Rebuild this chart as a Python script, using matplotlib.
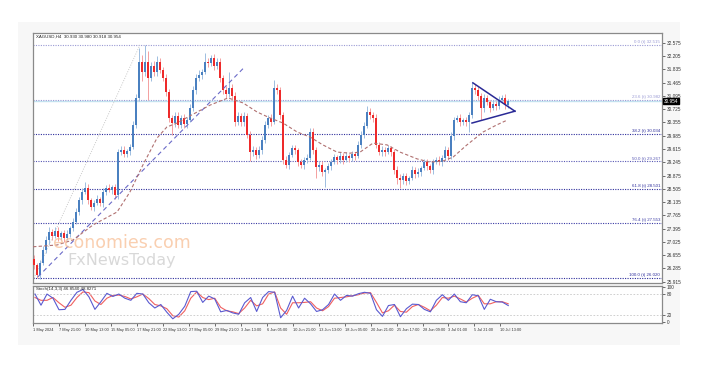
import matplotlib.pyplot as plt
import matplotlib.transforms as mtransforms
from matplotlib.patches import Rectangle

plt.rcParams['font.family'] = ['Liberation Sans', 'DejaVu Sans']

# chart texts
symbol_title = "XAGUSD,H4  30.930 30.980 30.918 30.954"
stoch_title = "Stoch(14,3,3) 46.8540 48.8271"

# candles (H4), open = previous close
first_open = 26.55
closes = [
    26.38, 26.10, 26.45, 26.80, 27.08, 27.30, 27.19, 27.33, 27.16, 27.27,
    27.13, 27.25, 27.42, 27.58, 27.86, 28.19, 28.42, 28.53, 28.19, 28.00,
    28.11, 28.22, 28.11, 28.42, 28.53, 28.47, 28.55, 28.33, 29.53, 29.59,
    29.48, 29.56, 29.67, 30.29, 31.04, 32.04, 31.76, 32.04, 31.60, 31.93,
    31.76, 32.04, 31.82, 31.60, 31.20, 30.48, 30.34, 30.54, 30.29, 30.48,
    30.31, 30.42, 30.76, 31.26, 31.60, 31.68, 31.76, 32.04, 32.01, 32.15,
    31.93, 32.04, 31.60, 31.26, 31.15, 31.32, 31.09, 30.37, 30.54, 30.37,
    30.54, 30.01, 29.53, 29.59, 29.45, 29.59, 29.87, 30.29, 30.48, 30.37,
    31.32, 31.26, 30.56, 29.31, 29.17, 29.45, 29.64, 29.59, 29.25, 29.17,
    29.31, 29.36, 30.09, 29.59, 29.11, 29.17, 28.97, 29.03, 29.14, 29.25,
    29.39, 29.31, 29.42, 29.31, 29.42, 29.36, 29.48, 29.42, 29.73, 30.01,
    30.26, 30.65, 30.56, 30.48, 29.73, 29.53, 29.59, 29.53, 29.64, 29.53,
    29.03, 28.80, 28.75, 28.86, 28.72, 28.80, 29.03, 28.92, 28.97, 29.08,
    29.25, 29.14, 29.03, 29.25, 29.31, 29.25, 29.36, 29.59, 29.42, 29.98,
    30.42, 30.48, 30.37, 30.42, 30.37, 30.56, 31.32, 31.26, 31.09, 30.76,
    31.04, 30.93, 30.76, 30.87, 30.81, 30.98, 31.04, 30.84, 30.95,
]
wick_up = [
    .10, .06, .08, .12, .10, .14, .08, .10, .12, .06,
    .08, .10, .06, .10, .12, .08, .10, .16, .12, .06,
    .08, .10, .06, .12, .08, .10, .06, .10, .08, .10,
    .12, .06, .08, .10, .10, .40, .20, .48, .30, .12,
    .15, .18, .10, .08, .10, .10, .08, .10, .12, .08,
    .10, .08, .10, .12, .10, .14, .10, .25, .12, .10,
    .12, .10, .10, .08, .12, .44, .10, .12, .10, .08,
    .10, .08, .12, .10, .08, .10, .12, .10, .08, .10,
    .22, .10, .08, .10, .12, .08, .10, .08, .06, .10,
    .08, .12, .11, .10, .08, .10, .12, .06, .08, .10,
    .08, .06, .10, .08, .10, .06, .08, .06, .10, .12,
    .10, .16, .10, .08, .12, .08, .10, .08, .10, .06,
    .08, .10, .12, .08, .10, .06, .10, .08, .12, .06,
    .10, .08, .06, .10, .08, .12, .08, .10, .08, .12,
    .10, .08, .10, .06, .08, .10, .16, .10, .12, .08,
    .10, .08, .06, .12, .08, .10, .08, .10, .06,
]
wick_dn = [
    .10, .08, .10, .06, .08, .10, .12, .06, .10, .08,
    .10, .06, .08, .10, .06, .08, .10, .06, .12, .08,
    .10, .06, .08, .10, .08, .06, .10, .12, .10, .08,
    .10, .08, .12, .06, .10, .08, .25, .10, .62, .10,
    .12, .10, .08, .10, .12, .10, .33, .12, .10, .08,
    .10, .12, .06, .08, .10, .08, .12, .06, .10, .08,
    .10, .08, .12, .10, .10, .08, .10, .12, .08, .10,
    .12, .10, .25, .10, .12, .08, .10, .08, .10, .12,
    .06, .10, .10, .12, .08, .10, .06, .10, .12, .08,
    .10, .08, .06, .10, .31, .10, .12, .40, .08, .10,
    .06, .10, .08, .12, .06, .10, .08, .10, .06, .08,
    .10, .06, .10, .12, .10, .08, .12, .10, .06, .10,
    .10, .15, .22, .10, .12, .08, .06, .10, .08, .10,
    .06, .10, .08, .10, .06, .08, .10, .06, .10, .08,
    .10, .06, .10, .08, .10, .27, .08, .10, .12, .34,
    .10, .08, .12, .06, .10, .08, .06, .10, .08,
]
last_price = 30.954

# fibonacci retracement
swing_high = 32.515
swing_low = 26.020
fib_levels = [0.0, 23.6, 38.2, 50.0, 61.8, 76.4, 100.0]
fib_colors = ['#9a9ad4', '#9a9ad4', '#2e2e9c', '#5858b4', '#2e2e9c', '#3a3aa4', '#2e2e9c']

price_ticks = [32.575, 32.205, 31.835, 31.465, 31.095, 30.725, 30.355, 29.985,
               29.615, 29.245, 28.875, 28.505, 28.135, 27.765, 27.395, 27.025,
               26.655, 26.285, 25.915]

# moving average (dashed brown), vertices
ma_bar = [-0.3, 7.7, 13.0, 19.7, 27.7, 32.0, 36.3, 41.0, 44.3, 47.7, 52.0, 58.7,
          64.7, 69.7, 74.3, 78.7, 83.0, 87.7, 92.0, 96.3, 101.0, 105.3, 108.7,
          113.0, 117.7, 122.0, 127.7, 132.0, 136.3, 139.7, 144.3, 149.7, 154.3, 157.7]
ma_val = [26.89, 26.94, 27.08, 27.50, 27.86, 28.42, 29.17, 29.92, 30.23, 30.34,
          30.54, 30.84, 31.04, 30.90, 30.65, 30.48, 30.34, 30.09, 29.95, 29.73,
          29.53, 29.50, 29.53, 29.78, 29.73, 29.53, 29.34, 29.25, 29.28, 29.39,
          29.73, 30.09, 30.29, 30.42]

# drawn lines
trend_bar = [1.3, 70.3]
trend_val = [26.05, 31.91]
anchor_bar = [0.0, 35.3]
anchor_val = [26.02, 32.515]
tri_up_bar = [146.3, 160.3]
tri_up_val = [31.46, 30.67]
tri_lo_bar = [146.0, 160.3]
tri_lo_val = [30.34, 30.67]

# stochastic, one value every 2 bars
stoch_k = [80, 48, 80, 68, 35, 36, 62, 85, 93, 72, 36, 58, 82, 73, 80, 68, 62, 82,
           80, 55, 40, 50, 28, 9, 22, 45, 87, 88, 56, 74, 66, 29, 33, 26, 22, 55,
           70, 30, 70, 87, 85, 12, 33, 74, 40, 68, 52, 30, 35, 50, 80, 62, 76, 74,
           81, 85, 82, 35, 16, 47, 50, 15, 38, 51, 50, 36, 29, 62, 78, 62, 80, 58,
           55, 78, 75, 36, 65, 58, 57, 47]
stoch_d = [70, 62, 62, 70, 55, 42, 48, 70, 86, 84, 60, 50, 68, 76, 77, 73, 66, 72,
           80, 67, 50, 46, 38, 18, 14, 32, 68, 86, 70, 64, 68, 42, 32, 29, 24, 40,
           62, 46, 52, 80, 86, 40, 22, 55, 55, 56, 58, 40, 32, 44, 68, 70, 72, 75,
           78, 83, 84, 56, 26, 32, 48, 30, 28, 44, 50, 42, 32, 48, 70, 68, 74, 66,
           57, 68, 76, 52, 52, 58, 58, 52]
stoch_levels = [20, 80]

date_labels = ['1 May 2024', '7 May 21:00', '10 May 13:00', '15 May 05:00',
               '17 May 21:00', '22 May 13:00', '27 May 05:00', '29 May 21:00',
               '3 Jun 13:00', '6 Jun 05:00', '10 Jun 21:00', '13 Jun 13:00',
               '18 Jun 05:00', '20 Jun 21:00', '25 Jun 17:00', '28 Jun 09:00',
               '3 Jul 01:00', '5 Jul 21:00', '10 Jul 13:00']

W, H = 702, 376
fig = plt.figure(figsize=(W / 100, H / 100), dpi=100)
fig.patch.set_facecolor('white')
fig.patches.append(Rectangle((18 / W, 1 - 345 / H), 662 / W, 323 / H,
                             transform=fig.transFigure, facecolor='#f7f7f7',
                             edgecolor='none', zorder=-5))

ax = fig.add_axes([33 / W, 1 - 283 / H, 629 / W, 250 / H])
sub = fig.add_axes([33 / W, 1 - 323 / H, 629 / W, 37 / H])

n = len(closes)
xlim = (-0.33, 209.33)

# candles
opens = [first_open] + closes[:-1]
for i in range(n):
    o, c = opens[i], closes[i]
    hi = max(o, c) + wick_up[i]
    lo = min(o, c) - wick_dn[i]
    up = c >= o
    ax.vlines(i, lo, hi, color='#9dbde0' if up else '#f4a0a0', lw=0.7, zorder=3)
    ax.bar(i, max(abs(c - o), 0.015), bottom=min(o, c), width=0.75,
           color='#4a80c0' if up else '#ee2a2a', zorder=4)

# fib levels
rng = swing_high - swing_low
for lvl, col in zip(fib_levels, fib_colors):
    p = swing_high - lvl / 100 * rng
    ax.axhline(p, color=col, lw=0.8, ls=(0, (1, 1.2)), zorder=2)
    ax.text(0.997, p + 0.02, f"{lvl:.1f} (t) {p:.3f}", transform=ax.get_yaxis_transform(),
            ha='right', va='bottom', fontsize=3.2, color=col)

ax.axhline(last_price, color='#c4e4f0', lw=1.0, zorder=1)
ax.plot(anchor_bar, anchor_val, color='#c8c8c8', lw=0.7, ls=(0, (1, 1.5)), zorder=2)
ax.plot(trend_bar, trend_val, color='#6a6ac8', lw=0.8, ls=(0, (4, 3)), zorder=5)
ax.plot(ma_bar, ma_val, color='#b07070', lw=0.8, ls=(0, (3, 2)), zorder=5)
ax.plot(tri_up_bar, tri_up_val, color='#2a2a96', lw=1.1, zorder=6)
ax.plot(tri_lo_bar, tri_lo_val, color='#2a2a96', lw=1.1, zorder=6)

# watermark
ax.text(6.3, 27.0, 'economies.com', fontsize=12.5, color='#f8bf96', alpha=0.75,
        va='center', ha='left', zorder=7, family='DejaVu Sans')
ax.text(11.0, 26.52, 'FxNewsToday', fontsize=11.5, color='#cfcfcf', alpha=0.8,
        va='center', ha='left', zorder=7, family='DejaVu Sans')

ax.text(0.004, 0.995, symbol_title, transform=ax.transAxes, fontsize=3.2,
        color='#222222', va='top', ha='left')

ax.set_xlim(*xlim)
ax.set_ylim(25.88, 32.85)
ax.set_xticks([])
ax.yaxis.tick_right()
ax.set_yticks(price_ticks)
ax.set_yticklabels([f"{v:.3f}" for v in price_ticks])
ax.tick_params(axis='y', labelsize=3.4, length=2, width=0.5, pad=1.5,
               colors='#333333')

# current price box
tr = mtransforms.blended_transform_factory(ax.transAxes, ax.transData)
ax.text(1.003, last_price, f"{last_price:.3f}", transform=tr, fontsize=3.4,
        color='white', va='center', ha='left',
        bbox=dict(boxstyle='square,pad=0.2', fc='black', ec='black'))

# stochastic
sx = [2 * j for j in range(len(stoch_k))]
sub.plot(sx, stoch_k, color='#5a5ad0', lw=0.8, zorder=3)
sub.plot(sx, stoch_d, color='#f06060', lw=0.8, zorder=2)
for lv in stoch_levels:
    sub.axhline(lv, color='#c8c8c8', lw=0.6, ls=(0, (2, 2)))
sub.text(0.004, 0.97, stoch_title, transform=sub.transAxes, fontsize=3.2,
         color='#222222', va='top', ha='left')
sub.set_xlim(*xlim)
sub.set_ylim(-3, 103)
sub.yaxis.tick_right()
sub.set_yticks([0, 20, 80, 100])
sub.tick_params(axis='y', labelsize=3.4, length=2, width=0.5, pad=1.5,
                colors='#333333')

tick_pos = [-0.67] + [8 + 8.67 * k for k in range(len(date_labels) - 1)]
sub.set_xticks(tick_pos)
sub.set_xticklabels(date_labels, ha='left')
sub.tick_params(axis='x', labelsize=2.8, length=2, width=0.5, pad=1.5,
                colors='#333333')

for a in (ax, sub):
    for s in a.spines.values():
        s.set_color('#8a8a8a')
        s.set_linewidth(0.9)

fig.savefig('out.png', dpi=100)
